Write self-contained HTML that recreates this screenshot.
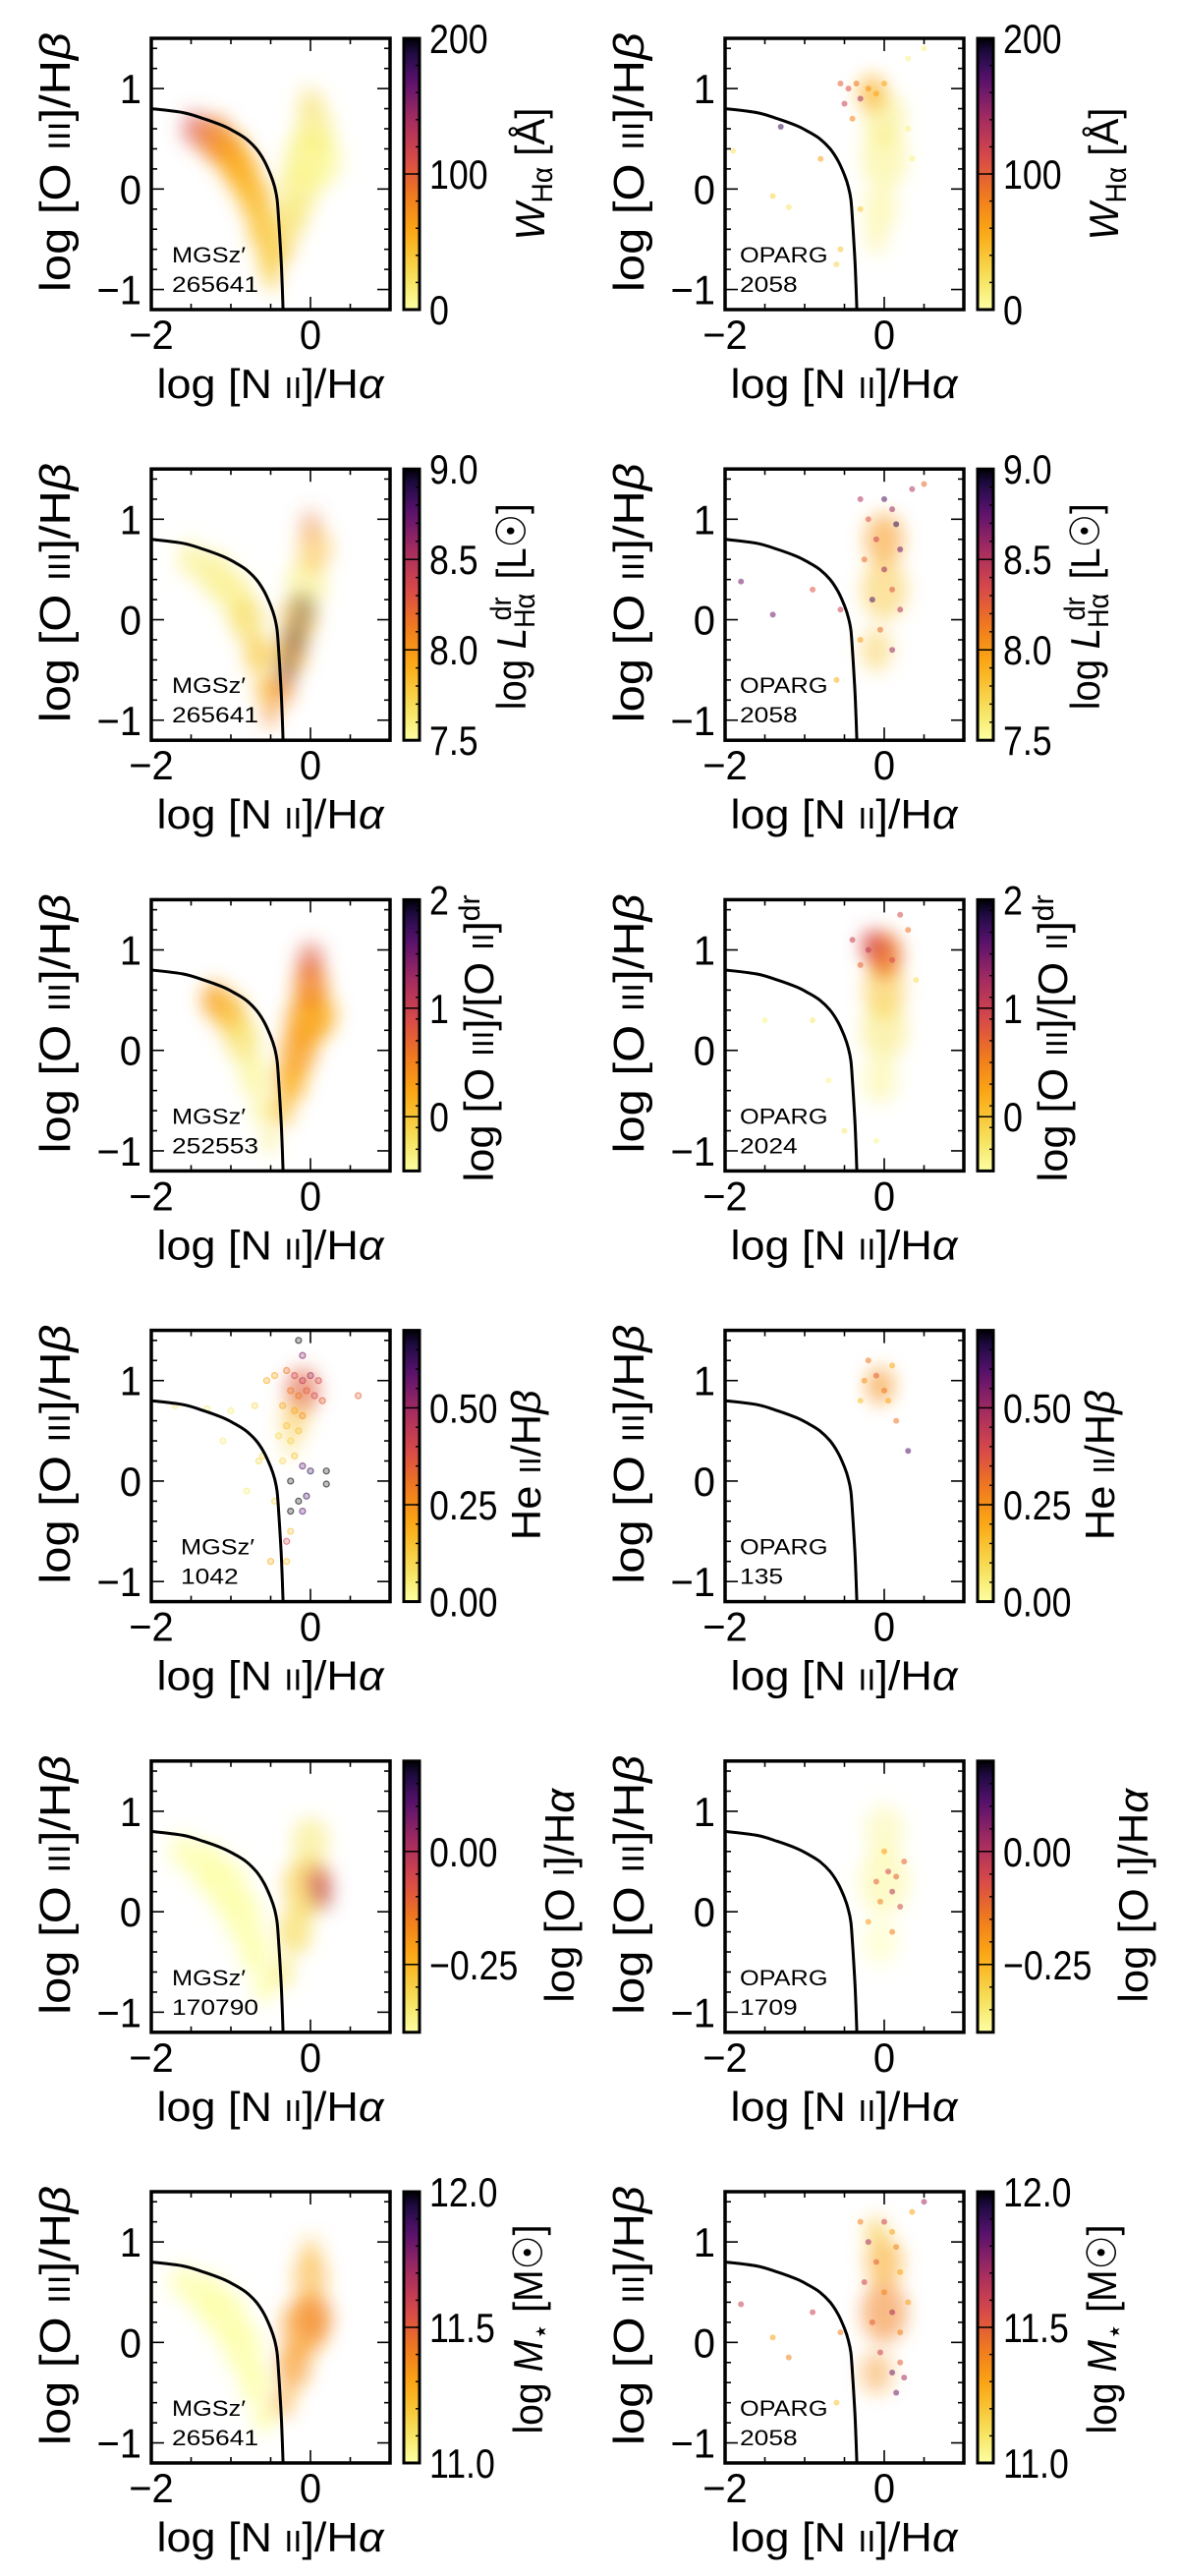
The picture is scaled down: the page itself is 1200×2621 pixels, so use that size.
<!DOCTYPE html>
<html><head><meta charset="utf-8">
<style>
html,body{margin:0;padding:0;background:#fff;}
svg{display:block;font-family:"Liberation Sans","DejaVu Sans",sans-serif;}
</style></head>
<body>
<svg id="fig" width="1200" height="2621" viewBox="0 0 1200 2621" xmlns="http://www.w3.org/2000/svg">
<defs>
<filter id="blur" x="-50%" y="-50%" width="200%" height="200%"><feGaussianBlur stdDeviation="9"/></filter>
</defs>
</svg>
<script>
// ---------- Data ----------
const bptX = [-2.0,-1.6,-1.34,-1.1,-0.95,-0.81,-0.68,-0.58,-0.5,-0.45,-0.42,-0.4,-0.38,-0.36,-0.345];
const bptY = [0.80,0.76,0.70,0.63,0.57,0.50,0.40,0.28,0.14,0.02,-0.1,-0.3,-0.55,-0.85,-1.2];

const cbMin = [0, 7.5, -0.5, 0, -0.4, 11.0];
const cbMax = [200, 9.0, 2.0, 0.7, 0.2, 12.0];
const cbMajor = [[0,100,200],[7.5,8.0,8.5,9.0],[0,1,2],[0,0.25,0.5],[-0.25,0],[11.0,11.5,12.0]];
const cbTickLabels = [["0","100","200"],["7.5","8.0","8.5","9.0"],["0","1","2"],["0.00","0.25","0.50"],["\u22120.25","0.00"],["11.0","11.5","12.0"]];
const cbMinorStep = [20, 0.1, 0.2, 0.05, 0.05, 0.1];
const leftLabels = ["265641","265641","252553","1042","170790","265641"];
const rightLabels = ["2058","2058","2024","135","1709","2058"];

const c1L_x=[-1.45,-1.2,-1.0,-0.85,-0.7,-0.6,-0.52,-0.48,-0.35,-0.25,-0.15,-0.05,0.1,0.05,0.0];
const c1L_y=[0.6,0.5,0.35,0.15,-0.1,-0.4,-0.7,-0.9,-0.6,-0.3,0.0,0.3,0.3,0.6,0.85];
const c1L_r=[0.12,0.15,0.15,0.15,0.14,0.13,0.1,0.07,0.1,0.14,0.18,0.2,0.2,0.17,0.12];
const c1L_v=[110,85,65,55,48,42,38,35,35,25,15,10,5,15,30];
const c1L_a=[0.5,0.7,0.75,0.75,0.75,0.75,0.75,0.7,0.6,0.6,0.6,0.6,0.6,0.5,0.35];

const c1R_x=[0.0,0.0,-0.05,-0.1,-0.15];
const c1R_y=[0.3,0.7,-0.2,-0.5,0.95];
const c1R_r=[0.2,0.18,0.15,0.1,0.12];
const c1R_v=[10,15,10,10,55];
const c1R_a=[0.5,0.5,0.45,0.4,0.6];

const c2L_x=[-1.5,-1.2,-0.95,-0.8,-0.65,-0.55,-0.5,-0.35,-0.25,-0.15,-0.05,0.05,0.0,-0.3,-0.2,-0.1];
const c2L_y=[0.6,0.45,0.25,0.0,-0.35,-0.7,-0.95,-0.7,-0.35,0.0,0.35,0.7,0.95,-0.5,-0.2,0.1];
const c2L_r=[0.12,0.15,0.15,0.15,0.13,0.1,0.07,0.1,0.14,0.16,0.18,0.15,0.1,0.1,0.12,0.12];
const c2L_v=[7.6,7.6,7.6,7.7,7.8,7.9,8.1,8.1,7.9,7.8,7.6,7.9,8.2,8.9,8.9,8.9];
const c2L_a=[0.5,0.6,0.6,0.6,0.6,0.6,0.6,0.6,0.6,0.6,0.5,0.4,0.3,0.3,0.3,0.25];

const c2R_x=[0.0,0.0,-0.1];
const c2R_y=[0.3,0.8,-0.3];
const c2R_r=[0.2,0.17,0.14];
const c2R_v=[7.8,8.0,7.8];
const c2R_a=[0.45,0.5,0.4];

const c3L_x=[-1.2,-1.0,-0.85,-0.7,-0.58,-0.5,-0.35,-0.25,-0.15,-0.05,0.1,0.0,0.0];
const c3L_y=[0.5,0.35,0.1,-0.25,-0.6,-0.9,-0.6,-0.3,0.0,0.3,0.35,0.65,0.9];
const c3L_r=[0.12,0.14,0.15,0.14,0.11,0.07,0.1,0.14,0.16,0.18,0.16,0.15,0.12];
const c3L_v=[0.3,0.1,-0.2,-0.4,-0.4,-0.3,0.1,0.2,0.3,0.3,0.2,0.5,0.8];
const c3L_a=[0.7,0.7,0.6,0.6,0.6,0.6,0.6,0.7,0.7,0.7,0.6,0.7,0.5];

const c3R_x=[0.0,-0.05,0.0,0.0,-0.15];
const c3R_y=[0.2,-0.3,0.6,0.95,1.05];
const c3R_r=[0.2,0.15,0.18,0.15,0.1];
const c3R_v=[-0.3,-0.4,0.0,0.6,0.9];
const c3R_a=[0.5,0.45,0.5,0.8,0.7];

const c4L_x=[-0.1,-0.2,-0.25];
const c4L_y=[0.9,0.6,0.35];
const c4L_r=[0.15,0.12,0.08];
const c4L_v=[0.35,0.15,0.1];
const c4L_a=[0.55,0.45,0.35];

const c4R_x=[-0.05];
const c4R_y=[0.95];
const c4R_r=[0.12];
const c4R_v=[0.25];
const c4R_a=[0.55];

const c5L_x=[-1.6,-1.3,-1.05,-0.85,-0.7,-0.58,-0.35,-0.2,-0.05,0.0,0.1,0.15];
const c5L_y=[0.6,0.45,0.25,-0.05,-0.4,-0.75,-0.6,-0.2,0.25,0.7,0.3,0.15];
const c5L_r=[0.12,0.16,0.18,0.17,0.14,0.1,0.1,0.15,0.2,0.16,0.12,0.1];
const c5L_v=[-0.4,-0.4,-0.4,-0.4,-0.4,-0.4,-0.35,-0.32,-0.3,-0.35,-0.05,0.0];
const c5L_a=[0.6,0.7,0.7,0.7,0.7,0.7,0.6,0.6,0.6,0.5,0.45,0.35];

const c5R_x=[0.0,-0.05,0.0];
const c5R_y=[0.3,-0.3,0.8];
const c5R_r=[0.22,0.15,0.17];
const c5R_v=[-0.38,-0.4,-0.38];
const c5R_a=[0.45,0.4,0.4];

const c6L_x=[-1.6,-1.3,-1.05,-0.85,-0.7,-0.58,-0.35,-0.22,-0.08,0.05,0.0,0.0];
const c6L_y=[0.6,0.45,0.25,-0.05,-0.4,-0.75,-0.6,-0.25,0.15,0.25,0.65,0.9];
const c6L_r=[0.12,0.16,0.18,0.17,0.14,0.1,0.1,0.15,0.2,0.16,0.15,0.1];
const c6L_v=[11.0,11.0,11.0,11.0,11.0,11.0,11.3,11.35,11.35,11.4,11.3,11.25];
const c6L_a=[0.6,0.7,0.7,0.7,0.7,0.7,0.5,0.55,0.55,0.5,0.45,0.35];

const c6R_x=[0.0,0.0,-0.1,-0.1];
const c6R_y=[0.3,0.8,-0.3,1.1];
const c6R_r=[0.2,0.16,0.14,0.1];
const c6R_v=[11.4,11.3,11.35,11.2];
const c6R_a=[0.5,0.5,0.4,0.5];

const d1R_x=[-0.55,-0.45,-0.35,-0.5,-0.3,-0.2,-0.1,0.0,-0.4,-1.3,-1.9,-0.8,-1.4,-1.2,-0.3,0.5,0.3,-0.55,-0.6,0.35,0.3];
const d1R_y=[1.05,1.0,1.05,0.85,0.9,1.0,0.95,1.05,0.7,0.62,0.38,0.3,-0.07,-0.18,-0.2,1.4,1.3,-0.6,-0.75,0.3,0.6];
const d1R_v=[100,110,90,120,140,70,60,60,80,180,20,60,30,20,40,10,10,40,30,10,10];

const d2R_x=[-0.3,0.0,0.1,-0.2,0.15,-0.1,0.2,-0.25,0.0,0.1,-0.15,0.2,-0.05,0.1,-0.3,-0.55,-0.9,-1.4,-0.6,0.5,0.35,-1.8];
const d2R_y=[1.2,1.2,1.1,1.0,0.95,0.8,0.7,0.6,0.5,0.3,0.2,0.1,-0.1,-0.3,-0.2,0.1,0.3,0.05,-0.6,1.35,1.3,0.38];
const d2R_v=[8.5,8.8,8.6,8.3,8.9,8.4,8.7,8.2,8.6,8.3,8.8,8.5,8.2,8.6,8.0,8.4,8.3,8.7,7.9,8.2,8.5,8.7];

const d3R_x=[-0.4,-0.3,-0.9,-1.5,-0.7,0.3,0.2,-0.5,-0.1,0.4,-0.2,0.1];
const d3R_y=[1.1,0.85,0.3,0.3,-0.3,1.2,1.35,-0.8,-0.9,0.7,1.0,0.9];
const d3R_v=[1.0,0.7,-0.3,-0.4,-0.4,0.6,0.9,-0.3,-0.4,-0.2,1.1,0.9];

const d4L_x=[-0.15,-0.1,-0.3,-0.2,-0.1,0.0,0.1,-0.05,-0.15,0.05,0.15,-0.25,-0.45,-0.55,-0.35,-0.2,-0.1,-0.3,-0.15,-0.25,-0.4,-0.2,-0.35,-0.1,0.0,0.2,0.2,-0.25,-0.15,-0.05,-0.25,-0.1,-0.3,-0.25,-0.3,-0.5,-0.7,-1.0,-1.3,-1.7,-1.1,-0.6,-0.8,-0.65,-0.45,0.6];
const d4L_y=[1.4,1.25,1.1,1.05,1.0,1.05,1.0,0.9,0.85,0.85,0.8,0.9,1.05,1.0,0.75,0.7,0.65,0.55,0.5,0.4,0.45,0.25,0.2,0.15,0.1,0.1,-0.03,0.0,-0.2,-0.15,-0.3,-0.3,-0.6,-0.5,-0.8,-0.8,0.75,0.7,0.72,0.75,0.4,0.25,-0.1,0.2,-0.2,0.85];
const d4L_v=[0.7,0.55,0.3,0.4,0.45,0.5,0.4,0.35,0.3,0.4,0.35,0.3,0.2,0.2,0.2,0.2,0.25,0.15,0.15,0.12,0.1,0.15,0.1,0.6,0.65,0.7,0.7,0.7,0.7,0.65,0.7,0.6,0.4,0.15,0.15,0.2,0.1,0.05,0.05,0.05,0.05,0.1,0.05,0.1,0.1,0.35];

const d4R_x=[-0.2,0.1,-0.3,0.15,0.3,0.05,-0.1,-0.25,0.0];
const d4R_y=[1.2,1.15,0.8,0.6,0.3,0.8,1.05,1.0,0.9];
const d4R_v=[0.3,0.2,0.15,0.3,0.6,0.2,0.35,0.25,0.3];

const d5R_x=[0.05,0.1,0.15,-0.05,0.2,0.0,-0.2,0.25,-0.1,0.1];
const d5R_y=[0.4,0.2,0.35,0.1,0.05,0.6,-0.1,0.5,0.3,-0.2];
const d5R_v=[-0.05,0.0,-0.1,-0.15,-0.05,-0.2,-0.2,-0.1,-0.1,-0.15];

const d6R_x=[-0.3,0.0,0.1,-0.2,0.15,-0.1,0.2,-0.25,0.0,0.1,-0.15,0.2,-0.05,0.1,0.2,0.3,-0.55,-0.9,-1.4,-0.6,0.5,0.35,-1.8,-1.2,0.15,0.25];
const d6R_y=[1.2,1.2,1.1,1.0,0.95,0.8,0.7,0.6,0.5,0.3,0.2,0.1,-0.1,-0.3,-0.2,0.4,0.1,0.3,0.05,-0.6,1.4,1.3,0.38,-0.15,-0.5,-0.35];
const d6R_v=[11.4,11.6,11.3,11.7,11.4,11.5,11.3,11.6,11.4,11.7,11.5,11.4,11.6,11.8,11.5,11.3,11.4,11.6,11.3,11.2,11.7,11.3,11.6,11.4,11.8,11.7];

// ---------- Layout ----------
const ROW0 = 39, ROWSTEP = 438.2, AXX0 = 154, AXW = 243, AXH = 276, COLOFF = 584, CBX = 411, CBW = 16;
const XMIN = -2, XMAX = 1, YMIN = -1.2, YMAX = 1.5;
const SPREAD = 1.6;
const svg = document.getElementById('fig');
const NS = 'http://www.w3.org/2000/svg';

function rowTop(r){ return ROW0 + r*ROWSTEP; }
function xs(v, col){ return AXX0 + col*COLOFF + (v - XMIN)/(XMAX - XMIN)*AXW; }
function ys(v, row){ return rowTop(row) + (YMAX - v)/(YMAX - YMIN)*AXH; }

const stops = [[0,'#fcffa4'],[0.12,'#f6e05a'],[0.28,'#fbaa14'],[0.42,'#f17a1d'],[0.56,'#d7484a'],[0.7,'#a52c60'],[0.84,'#5c126e'],[0.94,'#210c4a'],[1,'#000004']];
function hex(c){ return [parseInt(c.substr(1,2),16),parseInt(c.substr(3,2),16),parseInt(c.substr(5,2),16)]; }
function cmap(t){
  t = Math.max(0, Math.min(1, t));
  for (let i=1;i<stops.length;i++){
    if (t <= stops[i][0]){
      const a = hex(stops[i-1][1]), b = hex(stops[i][1]);
      const f = (t - stops[i-1][0])/(stops[i][0]-stops[i-1][0]);
      return 'rgb(' + a.map((c,k)=>Math.round(c + (b[k]-c)*f)).join(',') + ')';
    }
  }
  return stops[stops.length-1][1];
}
function mk(tag, attrs, parent){
  const el = document.createElementNS(NS, tag);
  for (const k in attrs) el.setAttribute(k, attrs[k]);
  (parent || svg).appendChild(el);
  return el;
}
function condense(el, f){
  const w = el.getComputedTextLength();
  el.setAttribute('textLength', (w*f).toFixed(1));
  el.setAttribute('lengthAdjust', 'spacingAndGlyphs');
}
function smoothPath(P){
  let d = 'M' + P[0][0].toFixed(1) + ',' + P[0][1].toFixed(1);
  for (let i=0;i<P.length-1;i++){
    const p0 = P[Math.max(0,i-1)], p1 = P[i], p2 = P[i+1], p3 = P[Math.min(P.length-1,i+2)];
    const c1x = p1[0] + (p2[0]-p0[0])/6, c1y = p1[1] + (p2[1]-p0[1])/6;
    const c2x = p2[0] - (p3[0]-p1[0])/6, c2y = p2[1] - (p3[1]-p1[1])/6;
    d += 'C' + c1x.toFixed(1) + ',' + c1y.toFixed(1) + ' ' + c2x.toFixed(1) + ',' + c2y.toFixed(1) + ' ' + p2[0].toFixed(1) + ',' + p2[1].toFixed(1);
  }
  return d;
}

const cbTitles = [
  '<tspan font-style="italic">W</tspan><tspan font-size="0.7em" dy="8">Hα</tspan><tspan dy="-8"> [Å]</tspan>',
  'log <tspan font-style="italic">L</tspan><tspan font-size="0.7em" dy="9">Hα</tspan><tspan font-size="0.7em" dx="-30" dy="-24">dr</tspan><tspan dy="15" dx="8"> [L</tspan><tspan>☉]</tspan>',
  'log [O <tspan font-size="0.72em">III</tspan>]/[O <tspan font-size="0.72em">II</tspan>]<tspan font-size="0.7em" dy="-14">dr</tspan>',
  'He <tspan font-size="0.72em">II</tspan>/H<tspan font-style="italic">β</tspan>',
  'log [O <tspan font-size="0.72em">I</tspan>]/H<tspan font-style="italic">α</tspan>',
  'log <tspan font-style="italic">M</tspan><tspan font-size="0.7em" dy="8">⋆</tspan><tspan dy="-8"> [M☉]</tspan>'
];
const cbTitleX = [554, 535, 502, 550, 584, 552];
const cbTitleLen = [135, 210, 292, 153, 218, 213];
const cbTitleDy = [138, 140, 141, 137, 137, 140];
const annX = [175, 175, 175, 184, 175, 175];

const cloudSets = [
  [[c1L_x,c1L_y,c1L_r,c1L_v,c1L_a],[c1R_x,c1R_y,c1R_r,c1R_v,c1R_a]],
  [[c2L_x,c2L_y,c2L_r,c2L_v,c2L_a],[c2R_x,c2R_y,c2R_r,c2R_v,c2R_a]],
  [[c3L_x,c3L_y,c3L_r,c3L_v,c3L_a],[c3R_x,c3R_y,c3R_r,c3R_v,c3R_a]],
  [[c4L_x,c4L_y,c4L_r,c4L_v,c4L_a],[c4R_x,c4R_y,c4R_r,c4R_v,c4R_a]],
  [[c5L_x,c5L_y,c5L_r,c5L_v,c5L_a],[c5R_x,c5R_y,c5R_r,c5R_v,c5R_a]],
  [[c6L_x,c6L_y,c6L_r,c6L_v,c6L_a],[c6R_x,c6R_y,c6R_r,c6R_v,c6R_a]]
];
const dotSets = [
  [null,[d1R_x,d1R_y,d1R_v]],
  [null,[d2R_x,d2R_y,d2R_v]],
  [null,[d3R_x,d3R_y,d3R_v]],
  [[d4L_x,d4L_y,d4L_v],[d4R_x,d4R_y,d4R_v]],
  [null,[d5R_x,d5R_y,d5R_v]],
  [null,[d6R_x,d6R_y,d6R_v]]
];

const defs = svg.querySelector('defs');
for (let r=0;r<6;r++){
  const T = rowTop(r);
  const norm = v => (v - cbMin[r])/(cbMax[r]-cbMin[r]);
  for (let c=0;c<2;c++){
    const side = c===0 ? 'mgs' : 'oparg';
    const g = mk('g', {});
    
    
    const ax0 = AXX0 + c*COLOFF;
    const cid = 'clip' + r + c;
    const cp = mk('clipPath', {id: cid}, defs);
    mk('rect', {x: ax0, y: T, width: AXW, height: AXH}, cp);
    const plot = mk('g', {'clip-path': 'url(#' + cid + ')'}, g);
    
    
    const cs = cloudSets[r][c];
    const cg = mk('g', {filter: 'url(#blur)'}, plot);
    
    
    const pxu = AXW/(XMAX-XMIN);
    for (let i=0;i<cs[0].length;i++){
      const e = mk('ellipse', {cx: xs(cs[0][i], c), cy: ys(cs[1][i], r), rx: cs[2][i]*pxu*SPREAD*0.9, ry: cs[2][i]*pxu*SPREAD*1.2, fill: cmap(norm(cs[3][i])), 'fill-opacity': Math.min(1, cs[4][i]*1.1)}, cg);
      
      
    }
    const ds = dotSets[r][c];
    if (ds){
      for (let i=0;i<ds[0].length;i++){
        const col = cmap(norm(ds[2][i]));
        const hollow = (r===3 && c===0);
        const d = mk('circle', {cx: xs(ds[0][i], c), cy: ys(ds[1][i], r), r: 3,
          fill: col, 'fill-opacity': hollow?0.25:0.55, stroke: hollow?col:'none', 'stroke-opacity':0.6, 'stroke-width':1.2}, plot);
        
        
      }
    }
    const pts = bptX.map((v,i)=>[xs(v, c), ys(bptY[i], r)]);
    const cv = mk('path', {d: smoothPath(pts), fill: 'none', stroke: '#000', 'stroke-width': 3}, plot);
    
    
    const tg = mk('g', {stroke: '#000', 'stroke-width': 1.6}, g);
    
    
    for (let k=0;k<=6;k++){
      const v = -2 + k*0.5, x = xs(v, c), L = (v===-2||v===0)?13:6;
      mk('line', {x1:x, y1:T+AXH, x2:x, y2:T+AXH-L}, tg);
      mk('line', {x1:x, y1:T, x2:x, y2:T+L}, tg);
    }
    for (let k=0;k<=13;k++){
      const v = Math.round((-1.2 + k*0.2)*10)/10, y = ys(v, r), L = (Math.abs(v-Math.round(v))<1e-6)?13:6;
      mk('line', {x1:ax0, y1:y, x2:ax0+L, y2:y}, tg);
      mk('line', {x1:ax0+AXW, y1:y, x2:ax0+AXW-L, y2:y}, tg);
    }
    const fr = mk('rect', {x: ax0, y: T, width: AXW, height: AXH, fill: 'none', stroke: '#000', 'stroke-width': 3.5}, g);
    
    
    [[-2,'\u22122'],[0,'0']].forEach(p=>{
      const t = mk('text', {x: xs(p[0], c), y: T+316, 'text-anchor':'middle', 'font-size': 42}, g);
      t.textContent = p[1];
      
      
      condense(t, 0.95);
    });
    [[1,'1'],[0,'0'],[-1,'\u22121']].forEach(p=>{
      const t = mk('text', {x: ax0-10, y: ys(p[0], r)+15, 'text-anchor':'end', 'font-size': 42}, g);
      t.textContent = p[1];
      
      
      condense(t, 0.95);
    });
    const xl = mk('text', {x: ax0+121, y: T+366, 'text-anchor':'middle', 'font-size': 42, textLength: 231, lengthAdjust: 'spacingAndGlyphs'}, g);
    xl.innerHTML = 'log [N <tspan font-size="0.72em">II</tspan>]/H<tspan font-style="italic">α</tspan>';
    
    
    const yx = 71 + c*COLOFF, yy = T+126;
    const yl = mk('text', {x: yx, y: yy, 'text-anchor':'middle', 'font-size': 44, textLength: 264, lengthAdjust: 'spacingAndGlyphs', transform: 'rotate(-90 ' + yx + ' ' + yy + ')'}, g);
    yl.innerHTML = 'log [O <tspan font-size="0.72em">III</tspan>]/H<tspan font-style="italic">β</tspan>';
    
    
    const axn = c===0 ? annX[r] : 169;
    const an = mk('text', {x: axn + c*COLOFF, y: T+228, 'font-size': 22}, g);
    an.innerHTML = c===0 ? 'MGSz′' : 'OPARG';
    
    
    condense(an, 1.15);
    const an2 = mk('text', {x: axn + c*COLOFF, y: T+258, 'font-size': 22}, g);
    an2.textContent = c===0 ? leftLabels[r] : rightLabels[r];
    
    
    condense(an2, 1.2);
    const cbx = CBX + c*COLOFF;
    const gid = 'grad' + r + c;
    const lg = mk('linearGradient', {id: gid, x1:0, y1:1, x2:0, y2:0}, defs);
    for (let s=0;s<=20;s++) mk('stop', {offset: s/20, 'stop-color': cmap(s/20)}, lg);
    const cb = mk('g', {}, g);
    
    
    mk('rect', {x: cbx, y: T, width: CBW, height: AXH, fill: 'url(#' + gid + ')'}, cb);
    const cys = v => T + AXH - norm(v)*AXH;
    const nMinor = Math.round((cbMax[r]-cbMin[r])/cbMinorStep[r]);
    for (let k=1;k<nMinor;k++){
      const y = cys(cbMin[r] + k*cbMinorStep[r]);
      mk('line', {x1: cbx+CBW-4, y1: y, x2: cbx+CBW, y2: y, stroke:'#000', 'stroke-width':1.4}, cb);
    }
    cbMajor[r].forEach((v, i)=>{
      const y = cys(v);
      mk('line', {x1: cbx, y1: y, x2: cbx+CBW, y2: y, stroke:'#000', 'stroke-width':1.5}, cb);
      const t = mk('text', {x: cbx+26, y: y+15, 'font-size': 42}, cb);
      t.textContent = cbTickLabels[r][i];
      
      
      condense(t, 0.85);
    });
    mk('rect', {x: cbx, y: T, width: CBW, height: AXH, fill: 'none', stroke: '#000', 'stroke-width': 3}, cb);
    const tx = cbTitleX[r] + c*COLOFF, ty = T + cbTitleDy[r];
    const ct = mk('text', {x: tx, y: ty, 'text-anchor':'middle', 'font-size': 42, textLength: cbTitleLen[r], lengthAdjust:'spacingAndGlyphs', transform: 'rotate(-90 ' + tx + ' ' + ty + ')'}, cb);
    ct.innerHTML = cbTitles[r];
    
    
  }
}
</script>
</body></html>
